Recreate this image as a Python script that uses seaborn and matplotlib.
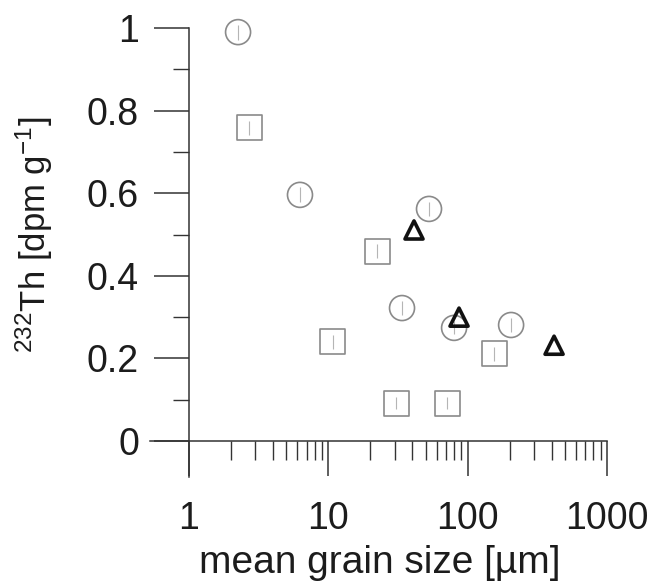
"""232Th activity against mean grain size, three sample groups on a log axis."""

import matplotlib

matplotlib.use("Agg")

import matplotlib.pyplot as plt
import matplotlib.ticker as mticker
import seaborn as sns

CIRCLE_SIZE = [2.25, 6.26, 52.8, 33.8, 79.9, 205]
CIRCLE_TH = [0.99, 0.596, 0.562, 0.322, 0.274, 0.281]
CIRCLE_ERR = [0.018, 0.018, 0.017, 0.016, 0.016, 0.016]

SQUARE_SIZE = [2.70, 22.4, 10.8, 30.6, 71.1, 155]
SQUARE_TH = [0.758, 0.46, 0.24, 0.092, 0.092, 0.211]
SQUARE_ERR = [0.018, 0.017, 0.016, 0.015, 0.015, 0.016]

TRIANGLE_SIZE = [41.2, 86.7, 417]
TRIANGLE_TH = [0.511, 0.30, 0.232]

X_TICKS = [1, 10, 100, 1000]
X_MINOR = [m * d for d in (1, 10, 100) for m in range(2, 10)]
Y_TICKS = [0, 0.2, 0.4, 0.6, 0.8, 1]
Y_MINOR = [0.1, 0.3, 0.5, 0.7, 0.9]

X_LABEL = "mean grain size [µm]"
Y_LABEL = r"$^{232}$Th [dpm g$^{-1}$]"

sns.set_theme(style="ticks")
plt.rcParams["font.family"] = ["Liberation Sans", "DejaVu Sans"]
plt.rcParams["mathtext.fontset"] = "custom"
plt.rcParams["mathtext.rm"] = "Liberation Sans"
plt.rcParams["mathtext.it"] = "Liberation Sans:italic"
plt.rcParams["mathtext.bf"] = "Liberation Sans:bold"

AXIS_COLOR = "#333333"
TEXT_COLOR = "#1c1c1c"
GRAY = "#8a8a8a"

fig = plt.figure(figsize=(6.54, 5.81), dpi=100)
ax = fig.add_axes([150 / 654, 104 / 581, 457 / 654, 461.4 / 581])

ax.errorbar(CIRCLE_SIZE, CIRCLE_TH, yerr=CIRCLE_ERR, fmt="none",
            ecolor="#b5b5b5", elinewidth=0.8, capsize=0, zorder=2)
ax.errorbar(SQUARE_SIZE, SQUARE_TH, yerr=SQUARE_ERR, fmt="none",
            ecolor="#b5b5b5", elinewidth=0.8, capsize=0, zorder=2)

sns.scatterplot(x=CIRCLE_SIZE, y=CIRCLE_TH, marker="o", s=324,
                facecolor="none", edgecolor=GRAY, linewidth=1.2,
                ax=ax, zorder=3, clip_on=False)
sns.scatterplot(x=SQUARE_SIZE, y=SQUARE_TH, marker="s", s=324,
                facecolor="none", edgecolor=GRAY, linewidth=1.2,
                ax=ax, zorder=3, clip_on=False)
sns.scatterplot(x=TRIANGLE_SIZE, y=TRIANGLE_TH, marker="^", s=169,
                facecolor="none", edgecolor="#111111", linewidth=2.6,
                ax=ax, zorder=4, clip_on=False)

ax.set_xscale("log")
ax.set_xlim(0.525, 1000)
ax.set_ylim(-0.087, 1.03)

# Axes cross at (1, 0) and both run a little past the origin.
for side in ("top", "right"):
    ax.spines[side].set_visible(False)
ax.spines["left"].set_position(("data", 1))
ax.spines["bottom"].set_position(("data", 0))
ax.spines["left"].set_bounds(-0.087, 1)
ax.spines["bottom"].set_bounds(0.525, 1000)
for side in ("left", "bottom"):
    ax.spines[side].set_color(AXIS_COLOR)
    ax.spines[side].set_linewidth(1.1)

ax.xaxis.set_major_locator(mticker.FixedLocator(X_TICKS))
ax.xaxis.set_minor_locator(mticker.FixedLocator(X_MINOR))
ax.xaxis.set_major_formatter(mticker.FuncFormatter(lambda v, _: f"{v:g}"))
ax.xaxis.set_minor_formatter(mticker.NullFormatter())
ax.yaxis.set_major_locator(mticker.FixedLocator(Y_TICKS))
ax.yaxis.set_minor_locator(mticker.FixedLocator(Y_MINOR))
ax.yaxis.set_major_formatter(mticker.FuncFormatter(lambda v, _: f"{v:g}"))

ax.tick_params(axis="x", which="major", direction="out", length=25, width=1.1,
               pad=18, labelsize=27, color=AXIS_COLOR, labelcolor=TEXT_COLOR)
ax.tick_params(axis="x", which="minor", direction="out", length=14, width=1.0,
               color=AXIS_COLOR)
ax.tick_params(axis="y", which="major", direction="out", length=25, width=1.1,
               pad=11, labelsize=27, color=AXIS_COLOR, labelcolor=TEXT_COLOR)
ax.tick_params(axis="y", which="minor", direction="out", length=11.5, width=1.0,
               color=AXIS_COLOR)

ax.set_xlabel(X_LABEL, fontsize=28, color=TEXT_COLOR)
ax.set_ylabel(Y_LABEL, fontsize=25, color=TEXT_COLOR)
ax.xaxis.set_label_coords(0.503, -0.147)
ax.yaxis.set_label_coords(-0.208, 0.5245)

fig.savefig("out.png", dpi=100)
plt.close(fig)
